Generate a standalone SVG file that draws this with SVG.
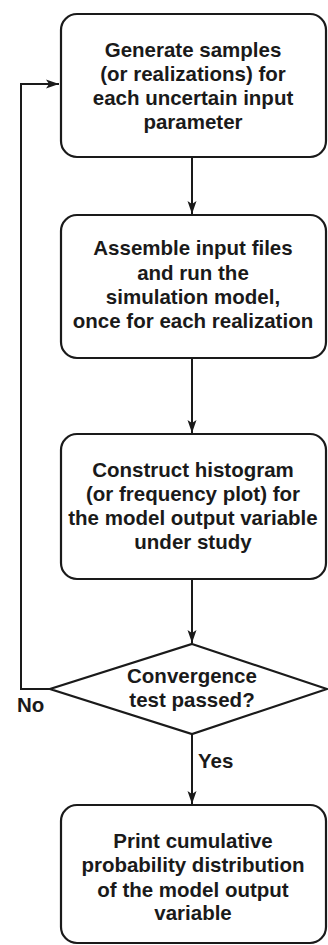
<svg xmlns="http://www.w3.org/2000/svg" width="328" height="945" viewBox="0 0 328 945">
<defs>
<style>
.box{fill:#fff;stroke:#1a1a1a;stroke-width:2.2}
.t{font-family:"Liberation Sans",Arial,sans-serif;font-weight:bold;font-size:20.5px;fill:#1a1a1a;text-anchor:middle}
.l{font-family:"Liberation Sans",Arial,sans-serif;font-weight:bold;font-size:20.5px;fill:#1a1a1a}
.c{fill:none;stroke:#1a1a1a;stroke-width:2}
</style>
<marker id="ah" viewBox="0 0 13 10" refX="13" refY="5" markerWidth="13" markerHeight="10" markerUnits="userSpaceOnUse" orient="auto">
<path d="M0,0.5 L13,5 L0,9.5 L3,5 Z" fill="#1a1a1a"/>
</marker>
</defs>
<rect width="328" height="945" fill="#fff"/>
<g id="connectors">
<line class="c" x1="192" y1="157" x2="192" y2="214" marker-end="url(#ah)"/>
<line class="c" x1="192" y1="358" x2="192" y2="433" marker-end="url(#ah)"/>
<line class="c" x1="192" y1="579" x2="192" y2="643" marker-end="url(#ah)"/>
<line class="c" x1="192" y1="734" x2="192" y2="804" marker-end="url(#ah)"/>
<polyline class="c" points="50,689 21,689 21,84 59,84" marker-end="url(#ah)"/>
<text class="l" x="17" y="712">No</text>
<text class="l" x="198" y="768">Yes</text>
</g>
<g id="n1">
<rect class="box" x="61" y="14" width="265" height="143" rx="16"/>
<text class="t" x="193" y="57">Generate samples</text>
<text class="t" x="193" y="81">(or realizations) for</text>
<text class="t" x="193" y="105">each uncertain input</text>
<text class="t" x="193" y="129">parameter</text>
</g>
<g id="n2">
<rect class="box" x="61" y="215" width="265" height="143" rx="16"/>
<text class="t" x="193" y="255">Assemble input files</text>
<text class="t" x="193" y="280">and run the</text>
<text class="t" x="193" y="304">simulation model,</text>
<text class="t" x="193" y="328">once for each realization</text>
</g>
<g id="n3">
<rect class="box" x="61" y="434" width="265" height="145" rx="16"/>
<text class="t" x="193" y="477">Construct histogram</text>
<text class="t" x="193" y="501">(or frequency plot) for</text>
<text class="t" x="193" y="525">the model output variable</text>
<text class="t" x="193" y="549">under study</text>
</g>
<g id="n4">
<polygon class="box" points="192,644 327,689 192,734 50,689"/>
<text class="t" x="192" y="683">Convergence</text>
<text class="t" x="192" y="707">test passed?</text>
</g>
<g id="n5">
<rect class="box" x="61" y="805" width="265" height="138" rx="16"/>
<text class="t" x="193" y="848">Print cumulative</text>
<text class="t" x="193" y="872">probability distribution</text>
<text class="t" x="193" y="897">of the model output</text>
<text class="t" x="193" y="920">variable</text>
</g>
</svg>
